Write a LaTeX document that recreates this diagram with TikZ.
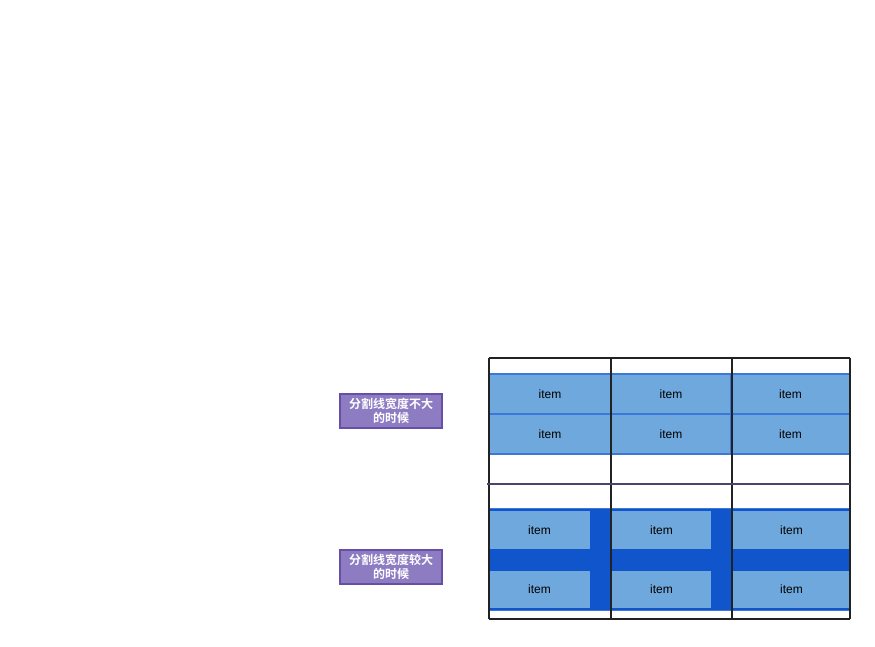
\documentclass[tikz,border=0pt]{standalone}
\usepackage{fontspec}
\setmainfont{Liberation Sans}
\newfontfamily\cjk{Noto Sans CJK SC}[BoldFont={Noto Sans CJK SC Bold}]
\definecolor{lightblue}{HTML}{6FA8DC}
\definecolor{itemborder}{HTML}{3C78D8}
\definecolor{darkblue}{HTML}{1155CC}
\definecolor{purplefill}{HTML}{8E7CC3}
\definecolor{purpleborder}{HTML}{674EA7}
\definecolor{gridline}{HTML}{222222}
\definecolor{sepline}{HTML}{4C4470}
\tikzset{
  itembox/.style={draw=itemborder, line width=1.5pt, fill=lightblue, inner sep=0pt,
    font=\fontsize{12}{14}\selectfont, text=black},
  itemfill/.style={fill=lightblue, draw=none, inner sep=0pt,
    font=\fontsize{12}{14}\selectfont, text=black},
  gapbox/.style={fill=darkblue, draw=none, inner sep=0pt},
  labelbox/.style={draw=purpleborder, line width=1.5pt, fill=purplefill, inner sep=0pt,
    text=white, align=center, font=\cjk\bfseries\fontsize{12}{14}\selectfont},
  grid/.style={draw=gridline, line width=1.8pt},
}
\begin{document}
\begin{tikzpicture}[x=1pt,y=-1pt]
\useasboundingbox (0,0) rectangle (875,646);
% labels
\node[labelbox, minimum width=102pt, minimum height=34pt] (l1) at (391,411) {分割线宽度不大\\的时候};
\node[labelbox, minimum width=102pt, minimum height=34pt] (l2) at (391,567) {分割线宽度较大\\的时候};
% top grid items
\node[itembox, minimum width=122pt, minimum height=40pt] (a11) at (550,394) {item};
\node[itembox, minimum width=120pt, minimum height=40pt] (a12) at (671,394) {item};
\node[itembox, minimum width=119pt, minimum height=40pt] (a13) at (790.5,394) {item};
\node[itembox, minimum width=122pt, minimum height=40pt] (a21) at (550,434) {item};
\node[itembox, minimum width=120pt, minimum height=40pt] (a22) at (671,434) {item};
\node[itembox, minimum width=119pt, minimum height=40pt] (a23) at (790.5,434) {item};
% bottom grid
\node[gapbox, minimum width=361pt, minimum height=101pt] (gap) at (669.5,559.5) {};
\draw[itemborder, line width=1.2pt] (gap.north west) -- (gap.north east);
\draw[itemborder, line width=1.2pt] (gap.south west) -- (gap.south east);
\node[itemfill, minimum width=101pt, minimum height=38pt] (b11) at (539.5,530) {item};
\node[itemfill, minimum width=99pt, minimum height=38pt] (b12) at (661.5,530) {item};
\node[itemfill, minimum width=117pt, minimum height=38pt] (b13) at (791.5,530) {item};
\node[itemfill, minimum width=101pt, minimum height=37pt] (b21) at (539.5,589.5) {item};
\node[itemfill, minimum width=99pt, minimum height=37pt] (b22) at (661.5,589.5) {item};
\node[itemfill, minimum width=117pt, minimum height=37pt] (b23) at (791.5,589.5) {item};
% grid lines
\coordinate (t1) at (489,358); \coordinate (t2) at (611,358);
\coordinate (t3) at (732,358); \coordinate (t4) at (850,358);
\coordinate (u1) at (489,619); \coordinate (u2) at (611,619);
\coordinate (u3) at (732,619); \coordinate (u4) at (850,619);
\coordinate (s1) at (487,484); \coordinate (s2) at (850,484);
\draw[grid] (t1) -- (t4);
\draw[grid] (u1) -- (u4);
\draw[grid] (t1) -- (u1);
\draw[grid] (t2) -- (u2);
\draw[grid] (t3) -- (u3);
\draw[grid] (t4) -- (u4);
\draw[sepline, line width=1.8pt] (s1) -- (s2);
\end{tikzpicture}
\end{document}
